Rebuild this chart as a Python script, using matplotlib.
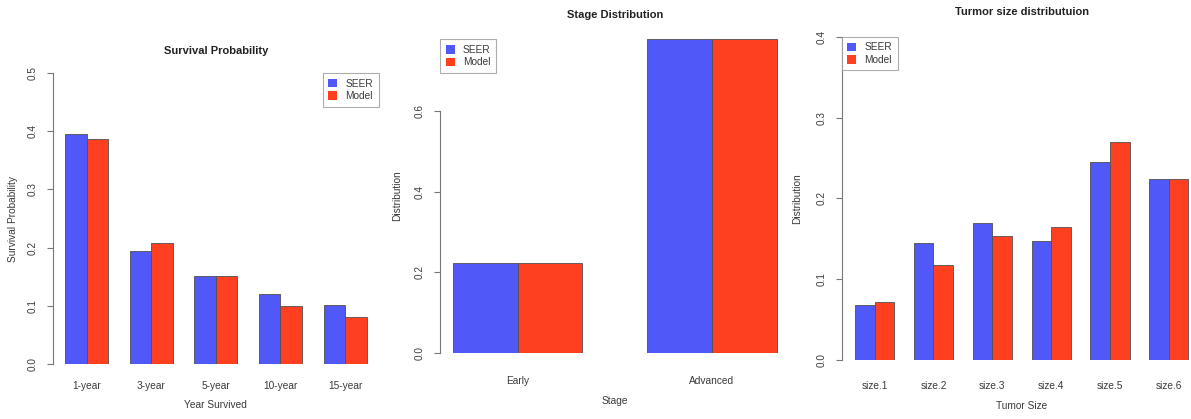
import matplotlib
matplotlib.use('Agg')
import matplotlib.pyplot as plt
import numpy as np

plt.rcParams['font.family'] = ['Liberation Sans', 'DejaVu Sans']

# Data
surv_years = ['1-year', '3-year', '5-year', '10-year', '15-year']
surv_seer = [0.395, 0.194, 0.152, 0.120, 0.101]
surv_model = [0.387, 0.208, 0.151, 0.100, 0.081]

stages = ['Early', 'Advanced']
stage_seer = [0.222, 0.778]
stage_model = [0.222, 0.778]

sizes = ['size.1', 'size.2', 'size.3', 'size.4', 'size.5', 'size.6']
size_seer = [0.068, 0.145, 0.170, 0.147, 0.245, 0.224]
size_model = [0.072, 0.118, 0.153, 0.164, 0.270, 0.224]

BLUE = '#5058F8'
RED = '#FF4020'
TEXT = '#3a3a3a'
AXIS = '#777777'

W, H = 1191, 419
fig = plt.figure(figsize=(W / 100, H / 100), dpi=100)


def add_ax(x0, x1, ytop, ybot):
    # pixel box -> figure fraction
    return fig.add_axes([x0 / W, 1 - ybot / H, (x1 - x0) / W, (ybot - ytop) / H])


def r_barplot(ax, cats, seer, model, ymax, yticks, title, xlabel, ylabel,
              legend_loc, tick_pad, xlab_y, ylab_x, title_pad):
    n = len(cats)
    centers = 2 + 3 * np.arange(n)
    ax.bar(centers - 0.5, seer, width=1, color=BLUE, edgecolor='#505050',
           linewidth=0.6, label='SEER')
    ax.bar(centers + 0.5, model, width=1, color=RED, edgecolor='#505050',
           linewidth=0.6, label='Model')
    span = 3 * n - 1
    ax.set_xlim(1 - 0.04 * span, 3 * n + 0.04 * span)
    ax.set_ylim(0, ymax)
    for s in ['top', 'right', 'bottom']:
        ax.spines[s].set_visible(False)
    ax.spines['left'].set_color(AXIS)
    ax.spines['left'].set_linewidth(0.8)
    ax.spines['left'].set_bounds(yticks[0], yticks[-1])
    ax.set_yticks(yticks)
    ax.set_yticklabels(['%.1f' % t for t in yticks], rotation=90, va='center')
    ax.tick_params(axis='y', length=4, width=0.8, color=AXIS, pad=7,
                   labelsize=7.2, labelcolor=TEXT)
    ax.set_xticks(centers)
    ax.set_xticklabels(cats)
    ax.tick_params(axis='x', length=0, pad=tick_pad, labelsize=7.3, labelcolor=TEXT)
    ax.set_title(title, fontsize=8, fontweight='bold', color='#222222',
                 pad=title_pad)
    ax.set_xlabel(xlabel, fontsize=7.3, color=TEXT)
    ax.set_ylabel(ylabel, fontsize=7.3, color=TEXT)
    ax.yaxis.set_label_coords(ylab_x, 0.5)
    ax.xaxis.set_label_coords(0.5, xlab_y)
    ax.patch.set_visible(False)
    anchor = (1, 1) if legend_loc == 'upper right' else (0, 1)
    leg = ax.legend(loc=legend_loc, bbox_to_anchor=anchor, fontsize=7.3,
                    frameon=True, fancybox=False, handlelength=0.9,
                    handleheight=0.9, handletextpad=0.8, borderpad=0.55,
                    labelspacing=0.25, borderaxespad=0)
    leg.get_frame().set_edgecolor('#999999')
    leg.get_frame().set_linewidth(0.8)
    for t in leg.get_texts():
        t.set_color(TEXT)
    for p in leg.get_patches():
        p.set_edgecolor('none')
    return ax


# Panel 1: survival probability
ax1 = add_ax(53, 378.7, 73, 364)
r_barplot(ax1, surv_years, surv_seer, surv_model, 0.5,
          [0.0, 0.1, 0.2, 0.3, 0.4, 0.5], 'Survival Probability',
          'Year Survived', 'Survival Probability', 'upper right', 12,
          -0.124, -0.108, 14)

# Panel 2: stage distribution
ax2 = add_ax(440, 789.7, 39.3, 352.7)
r_barplot(ax2, stages, stage_seer, stage_model, 0.778,
          [0.0, 0.2, 0.4, 0.6], 'Stage Distribution', 'Stage', 'Distribution',
          'upper left', 17, -0.138, -0.109, 15)

# Panel 3: tumor size distribution
ax3 = add_ax(841.7, 1201.7, 36.7, 360)
r_barplot(ax3, sizes, size_seer, size_model, 0.4,
          [0.0, 0.1, 0.2, 0.3, 0.4], 'Turmor size distributuion', 'Tumor Size',
          'Distribution', 'upper left', 15, -0.127, -0.111, 15.5)

plt.savefig('out.png', dpi=100)
